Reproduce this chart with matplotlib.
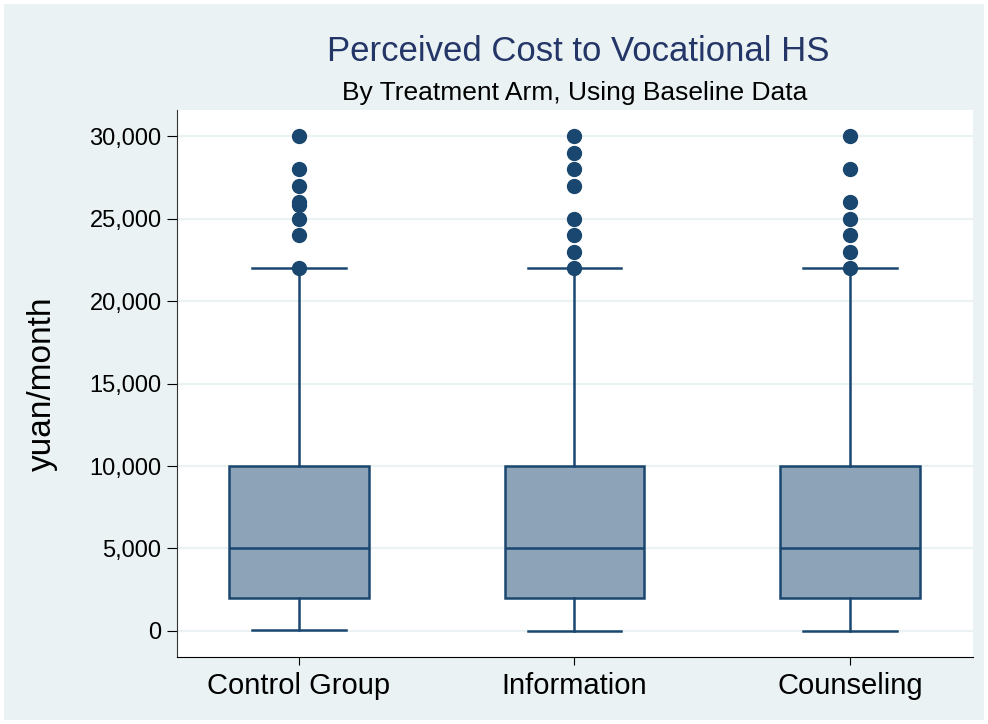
import matplotlib.pyplot as plt
from matplotlib.patches import Rectangle

plt.rcParams['font.family'] = ['Liberation Sans', 'DejaVu Sans']

# box summary values (yuan/month)
groups = ['Control Group', 'Information', 'Counseling']
whislo = [50, 0, 0]
q1 = [2000, 2000, 2000]
med = [5000, 5000, 5000]
q3 = [10000, 10000, 10000]
whishi = [22000, 22000, 22000]
outliers = [
    [22000, 24000, 25000, 25800, 26000, 27000, 28000, 30000],
    [22000, 23000, 24000, 25000, 27000, 28000, 29000, 30000],
    [22000, 23000, 24000, 25000, 26000, 28000, 30000],
]
yticks = [0, 5000, 10000, 15000, 20000, 25000, 30000]

navy = '#1a476f'
fill = '#8da3b8'
bg = '#eaf2f3'

fig = plt.figure(figsize=(9.88, 7.24), dpi=100)
fig.patch.set_facecolor('white')
fig.patches.append(Rectangle((4 / 988, 4 / 724), 980 / 988, 716 / 724,
                             transform=fig.transFigure, facecolor=bg,
                             edgecolor='none', zorder=-10))

ax = fig.add_axes([0.179, 0.0925, 0.806, 0.7555])
ax.set_facecolor('white')

stats = []
for i in range(len(groups)):
    stats.append(dict(label=groups[i], whislo=whislo[i], q1=q1[i], med=med[i],
                      q3=q3[i], whishi=whishi[i], fliers=outliers[i]))

ax.bxp(stats, positions=[1, 2, 3], widths=0.507, patch_artist=True,
       boxprops=dict(facecolor=fill, edgecolor=navy, linewidth=1.8),
       medianprops=dict(color=navy, linewidth=1.8),
       whiskerprops=dict(color=navy, linewidth=1.8),
       capprops=dict(color=navy, linewidth=1.8), capwidths=0.34,
       flierprops=dict(marker='o', markersize=10, markerfacecolor=navy,
                       markeredgecolor=navy, linestyle='none'))

ax.set_xlim(0.558, 3.446)
ax.set_ylim(-1580, 31580)
ax.set_yticks(yticks)
ax.set_yticklabels([f'{v:,}' for v in yticks])
ax.yaxis.grid(True, color=bg, linewidth=1.6)
ax.set_axisbelow(True)

for side in ['top', 'right']:
    ax.spines[side].set_visible(False)
ax.spines['left'].set_color('#333333')
ax.spines['bottom'].set_color('black')
ax.tick_params(axis='y', labelsize=17, length=7, pad=4, colors='black')
ax.tick_params(axis='x', labelsize=21, length=6, pad=5)
ax.set_ylabel('yuan/month', fontsize=24)
ax.yaxis.set_label_coords(-0.15, 0.5)

fig.text(0.585, 0.929, 'Perceived Cost to Vocational HS', ha='center',
         va='center', fontsize=25, color='#243567')
fig.text(0.582, 0.871, 'By Treatment Arm, Using Baseline Data', ha='center',
         va='center', fontsize=19, color='black')

fig.savefig('out.png', dpi=100, facecolor=fig.get_facecolor())
